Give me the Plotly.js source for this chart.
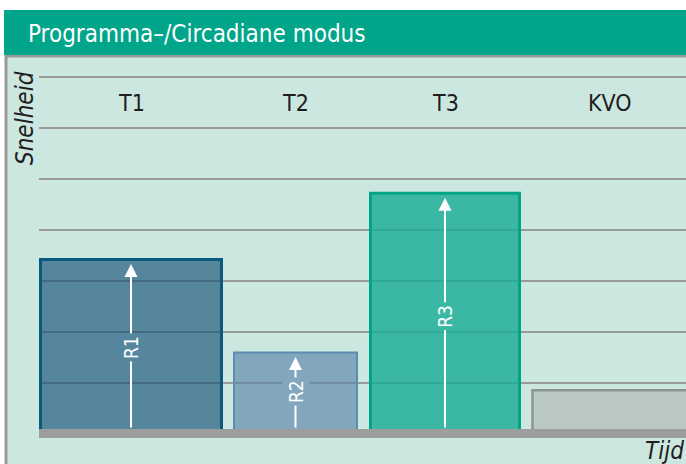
<!DOCTYPE html>
<html>
<head>
<meta charset="utf-8">
<script src="https://cdn.plot.ly/plotly-3.0.1.min.js"></script>
<style>html,body{margin:0;padding:0;background:#fff;}#chart{width:686px;height:464px;}</style>
</head>
<body>
<div id="chart"></div>
<script>
// Data (time axis in arbitrary units, speed in grid units)
const categories = ['T1', 'T2', 'T3', 'KVO'];
const startTime = [1.5, 195, 331.5, 493.5];
const endTime = [182.5, 318, 480.5, 648.5];
const speed = [3.42, 1.6, 4.72, 0.86];
const rateLabels = ['R1', 'R2', 'R3', ''];

const fillColors = ['rgba(21,82,120,0.65)', 'rgba(90,132,171,0.65)', 'rgba(21,172,149,0.8)', 'rgba(176,183,183,0.65)'];
const lineColors = ['#0b5a7d', '#5d8cb3', '#03a386', '#8e9595'];
const lineWidths = [3, 2, 3, 2.5];
const labelBg = ['#55869d', '#82a7be', '#3ab8a4', '#bac8c6'];

const centers = startTime.map((s, i) => (s + endTime[i]) / 2);
const widths = startTime.map((s, i) => endTime[i] - s);

const FONT = '"Liberation Sans Narrow", "DejaVu Sans Condensed", "Liberation Sans", sans-serif';

const trace = {
  type: 'bar',
  x: centers,
  y: speed,
  width: widths,
  marker: { color: fillColors, line: { color: lineColors, width: lineWidths } },
  hoverinfo: 'skip'
};

const annotations = [];
categories.forEach((c, i) => {
  annotations.push({
    x: centers[i], xref: 'x', y: 0.876, yref: 'paper', yanchor: 'middle',
    text: c, showarrow: false, font: { family: FONT, size: 23, color: '#1e1e1e' }
  });
  if (rateLabels[i]) {
    annotations.push({
      x: centers[i], xref: 'x', y: speed[i] - 0.09, yref: 'y',
      ax: centers[i], axref: 'x', ay: 0.1, ayref: 'y',
      text: '', showarrow: true, arrowcolor: '#ffffff', arrowwidth: 2, arrowhead: 2, arrowsize: 1.3, standoff: 0, startstandoff: 0
    });
    annotations.push({
      x: centers[i], xref: 'x', y: speed[i] * 0.47 + 0.08, yref: 'y',
      text: rateLabels[i], textangle: -90, showarrow: false,
      bgcolor: labelBg[i], borderpad: 2,
      font: { family: FONT, size: 19, color: '#ffffff' }
    });
  }
});
annotations.push({
  x: -0.0216, xref: 'paper', y: 0.836, yref: 'paper', xanchor: 'center', yanchor: 'middle',
  text: '<i>Snelheid</i>', textangle: -90, showarrow: false,
  font: { family: FONT, size: 24, color: '#1e1e1e' }
});
annotations.push({
  x: 1, xref: 'paper', y: -0.059, yref: 'paper', xanchor: 'right', yanchor: 'middle',
  text: '<i>Tijd</i>', showarrow: false,
  font: { family: FONT, size: 24, color: '#1e1e1e' }
});

const layout = {
  width: 686, height: 464,
  margin: { l: 39, r: 0, t: 57, b: 35, pad: 0 },
  paper_bgcolor: '#ffffff',
  plot_bgcolor: 'rgba(0,0,0,0)',
  showlegend: false,
  title: {
    text: 'Programma–/Circadiane modus',
    x: 28 / 686, xref: 'container', xanchor: 'left',
    y: 1 - 34 / 464, yref: 'container', yanchor: 'middle',
    font: { family: FONT, size: 24, color: '#ffffff' }
  },
  xaxis: {
    range: [0, 647], showgrid: false, zeroline: false, showticklabels: false, ticks: '',
    showline: true, linecolor: '#9d9d9d', linewidth: 9, layer: 'above traces', fixedrange: true
  },
  yaxis: {
    range: [0.098, 7.39], tick0: 0, dtick: 1, showgrid: true, gridcolor: '#9a9a9a', gridwidth: 1.6,
    zeroline: false, showticklabels: false, ticks: '', showline: false, fixedrange: true
  },
  shapes: [
    { type: 'rect', xref: 'paper', yref: 'paper', x0: -0.051, x1: 1.02, y0: -0.2, y1: 1.0027,
      fillcolor: '#cce7e0', line: { color: '#9a9a9a', width: 3 }, layer: 'below' },
    { type: 'rect', xref: 'paper', yref: 'paper', x0: -0.0541, x1: 1.02, y0: 1.0054, y1: 1.1263,
      fillcolor: '#00a58a', line: { width: 0 }, layer: 'below' }
  ],
  annotations: annotations
};

Plotly.newPlot('chart', [trace], layout, { displayModeBar: false, staticPlot: true });
</script>
</body>
</html>
